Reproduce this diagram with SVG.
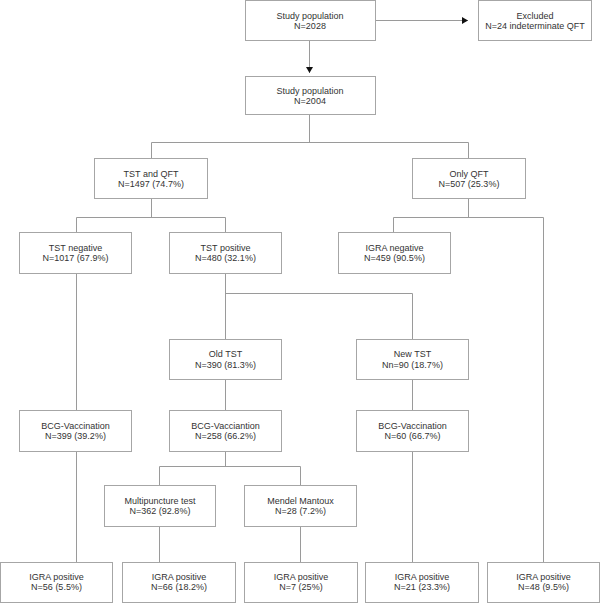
<svg xmlns="http://www.w3.org/2000/svg" width="600" height="603" viewBox="0 0 600 603">
<style>
.box{fill:#fff;stroke:#a6a6a6;stroke-width:1}
.ln{fill:none;stroke:#9a9a9a;stroke-width:1}
text{font-family:"Liberation Sans",Arial,sans-serif;font-size:9px;fill:#333;text-anchor:middle}
</style>
<defs>
<marker id="ah" markerWidth="8" markerHeight="8" refX="6" refY="3.5" orient="auto" markerUnits="userSpaceOnUse">
<path d="M0,0 L6,3.5 L0,7 Z" fill="#111"/>
</marker>
</defs>
<rect width="600" height="603" fill="#fff"/>
<g id="connectors">
<path class="ln" d="M375.5,20.5 H468" marker-end="url(#ah)"/>
<path class="ln" d="M309.5,40.5 V73" marker-end="url(#ah)"/>
<path class="ln" d="M309.5,114.5 V142.5 M151.5,158 V142.5 H468.5 V158"/>
<path class="ln" d="M151.5,198.5 V217.5 M76.5,232 V217.5 H225.5 V232"/>
<path class="ln" d="M468.5,198.5 V217.5 M393.5,232 V217.5 H543.5 V562"/>
<path class="ln" d="M225.5,273.5 V339 M225.5,293.5 H412.5 V339"/>
<path class="ln" d="M76.5,273.5 V410 M76.5,451.5 V562"/>
<path class="ln" d="M225.5,379.5 V410 M412.5,379.5 V410 M412.5,451.5 V562"/>
<path class="ln" d="M225.5,451.5 V466.5 M159.5,485 V466.5 H300.5 V485"/>
<path class="ln" d="M159.5,526.5 V562 M300.5,526.5 V562"/>
</g>
<g id="n1"><rect class="box" x="245.5" y="0.5" width="130" height="40"/><text x="310" y="18.5">Study population</text><text x="310" y="29">N=2028</text></g>
<g id="n2"><rect class="box" x="478.5" y="0.5" width="113" height="40"/><text x="535" y="18.5">Excluded</text><text x="535" y="29">N=24 indeterminate QFT</text></g>
<g id="n3"><rect class="box" x="245.5" y="76.5" width="130" height="38"/><text x="310" y="93.5">Study population</text><text x="310" y="104">N=2004</text></g>
<g id="n4"><rect class="box" x="94.5" y="158.5" width="113" height="40"/><text x="151" y="176.5">TST and QFT</text><text x="151" y="187">N=1497 (74.7%)</text></g>
<g id="n5"><rect class="box" x="412.5" y="158.5" width="113" height="40"/><text x="469" y="176.5">Only QFT</text><text x="469" y="187">N=507 (25.3%)</text></g>
<g id="n6"><rect class="box" x="19.5" y="232.5" width="112" height="41"/><text x="75.5" y="250.5">TST negative</text><text x="75.5" y="261">N=1017 (67.9%)</text></g>
<g id="n7"><rect class="box" x="169.5" y="232.5" width="112" height="41"/><text x="225.5" y="250.5">TST positive</text><text x="225.5" y="261">N=480 (32.1%)</text></g>
<g id="n8"><rect class="box" x="338.5" y="232.5" width="112" height="41"/><text x="394.5" y="250.5">IGRA negative</text><text x="394.5" y="261">N=459 (90.5%)</text></g>
<g id="n9"><rect class="box" x="169.5" y="339.5" width="112" height="40"/><text x="225.5" y="357">Old TST</text><text x="225.5" y="367.5">N=390 (81.3%)</text></g>
<g id="n10"><rect class="box" x="356.5" y="339.5" width="112" height="40"/><text x="412.5" y="357">New TST</text><text x="412.5" y="367.5">Nn=90 (18.7%)</text></g>
<g id="n11"><rect class="box" x="19.5" y="410.5" width="112" height="41"/><text x="75.5" y="428.5">BCG-Vaccination</text><text x="75.5" y="439">N=399 (39.2%)</text></g>
<g id="n12"><rect class="box" x="169.5" y="410.5" width="112" height="41"/><text x="225.5" y="428.5">BCG-Vacciantion</text><text x="225.5" y="439">N=258 (66.2%)</text></g>
<g id="n13"><rect class="box" x="356.5" y="410.5" width="112" height="41"/><text x="412.5" y="428.5">BCG-Vaccination</text><text x="412.5" y="439">N=60 (66.7%)</text></g>
<g id="n14"><rect class="box" x="104.5" y="485.5" width="111" height="41"/><text x="160" y="503.5">Multipuncture test</text><text x="160" y="514">N=362 (92.8%)</text></g>
<g id="n15"><rect class="box" x="244.5" y="485.5" width="112" height="41"/><text x="300.5" y="503.5">Mendel Mantoux</text><text x="300.5" y="514">N=28 (7.2%)</text></g>
<g id="n16"><rect class="box" x="0.5" y="562.5" width="112" height="40"/><text x="56.5" y="579.5">IGRA positive</text><text x="56.5" y="590">N=56 (5.5%)</text></g>
<g id="n17"><rect class="box" x="122.5" y="562.5" width="113" height="40"/><text x="179" y="579.5">IGRA positive</text><text x="179" y="590">N=66 (18.2%)</text></g>
<g id="n18"><rect class="box" x="244.5" y="562.5" width="113" height="40"/><text x="301" y="579.5">IGRA positive</text><text x="301" y="590">N=7 (25%)</text></g>
<g id="n19"><rect class="box" x="365.5" y="562.5" width="113" height="40"/><text x="422" y="579.5">IGRA positive</text><text x="422" y="590">N=21 (23.3%)</text></g>
<g id="n20"><rect class="box" x="487.5" y="562.5" width="112" height="40"/><text x="543.5" y="579.5">IGRA positive</text><text x="543.5" y="590">N=48 (9.5%)</text></g>
</svg>
